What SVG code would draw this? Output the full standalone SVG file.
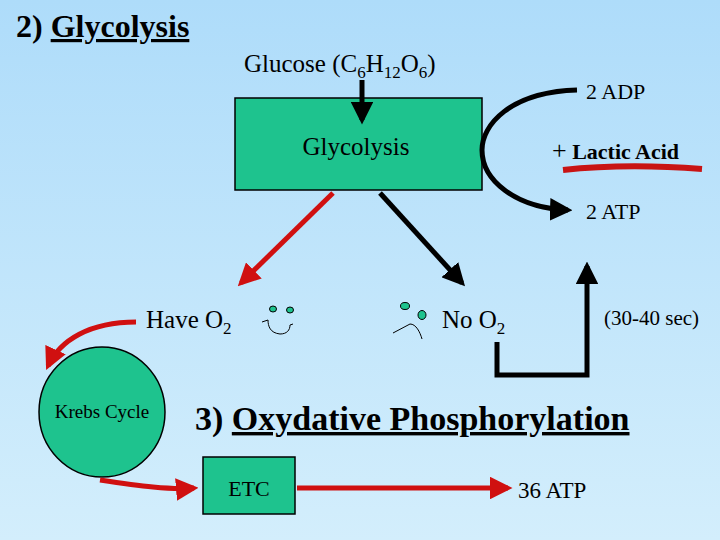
<svg xmlns="http://www.w3.org/2000/svg" width="720" height="540" viewBox="0 0 720 540">
<defs>
<linearGradient id="bg" x1="0" y1="0" x2="0" y2="1"><stop offset="0" stop-color="#aedcfa"/><stop offset="1" stop-color="#d3eefc"/></linearGradient>
<marker id="ak" viewBox="0 0 10 10" refX="8" refY="5" markerWidth="4.5" markerHeight="4.5" orient="auto"><path d="M0,0L10,5L0,10z" fill="#000"/></marker>
<marker id="ar" viewBox="0 0 10 10" refX="8" refY="5" markerWidth="4.5" markerHeight="4.5" orient="auto"><path d="M0,0L10,5L0,10z" fill="#d01010"/></marker>
<style>
.k{stroke:#000;stroke-width:5;fill:none}
.r{stroke:#d01010;stroke-width:5;fill:none}
.node{fill:#1ec38e;stroke:#000;stroke-width:1.5}
.eye{fill:#1ec38e;stroke:#000;stroke-width:1}
</style>
</defs>
<rect width="720" height="540" fill="url(#bg)"/>
<g font-family="'Liberation Serif', 'DejaVu Serif', serif" fill="#000">
<text x="16" y="37" font-size="32" font-weight="bold">2) <tspan text-decoration="underline">Glycolysis</tspan></text>
<text x="244" y="72" font-size="25">Glucose (C<tspan font-size="17" dy="6">6</tspan><tspan dy="-6">H</tspan><tspan font-size="17" dy="6">12</tspan><tspan dy="-6">O</tspan><tspan font-size="17" dy="6">6</tspan><tspan dy="-6">)</tspan></text>
<g id="glycolysis"><rect class="node" x="235" y="98" width="247" height="92"/><text x="356" y="155" font-size="25" text-anchor="middle">Glycolysis</text></g>
<g id="krebs"><ellipse class="node" cx="102" cy="412" rx="63" ry="65"/><text x="102" y="418" font-size="19" text-anchor="middle">Krebs Cycle</text></g>
<g id="etc"><rect class="node" x="203" y="457" width="92" height="57"/><text x="249" y="496" font-size="22" text-anchor="middle">ETC</text></g>
<g id="labels">
<text x="586" y="99" font-size="22">2 ADP</text>
<text x="552" y="159" font-size="22"><tspan font-size="26">+</tspan> <tspan font-weight="bold">Lactic Acid</tspan></text>
<text x="586" y="219" font-size="22">2 ATP</text>
<text x="146" y="328" font-size="25">Have O<tspan font-size="17" dy="6">2</tspan></text>
<text x="442" y="328" font-size="25">No O<tspan font-size="17" dy="6">2</tspan></text>
<text x="604" y="325" font-size="21">(30-40 sec)</text>
<text x="195" y="430" font-size="34" font-weight="bold">3) <tspan text-decoration="underline">Oxydative Phosphorylation</tspan></text>
<text x="518" y="498" font-size="23">36 ATP</text>
</g>
</g>
<g id="faces">
<ellipse class="eye" cx="273" cy="309" rx="3.5" ry="3"/><ellipse class="eye" cx="290" cy="310" rx="3.5" ry="3"/>
<path d="M262,322L268,320C268,326 270,333 280,334C287,334 290,330 290,325L293,324" stroke="#000" stroke-width="1" fill="none"/>
<ellipse class="eye" cx="405" cy="306" rx="4.5" ry="3.5"/><ellipse class="eye" cx="422" cy="315" rx="4" ry="4.5"/>
<path d="M393,333L410,324C416,324 420,332 422,339" stroke="#000" stroke-width="1" fill="none"/>
</g>
<g id="connectors">
<path d="M563,170C600,166 650,165 702,169" stroke="#c81414" stroke-width="6" fill="none"/>
<line class="k" x1="362" y1="80" x2="362" y2="120" marker-end="url(#ak)"/>
<path class="k" d="M577,90C510,92 482,125 482,150C482,180 515,208 568,210" marker-end="url(#ak)"/>
<line class="r" x1="333" y1="193" x2="241" y2="283" marker-end="url(#ar)"/>
<line class="k" x1="380" y1="193" x2="462" y2="283" marker-end="url(#ak)"/>
<path class="k" d="M497,342V375H587V266" marker-end="url(#ak)"/>
<path class="r" d="M136,322C90,322 60,340 48,366" marker-end="url(#ar)"/>
<path class="r" d="M100,480C140,486 170,490 194,488" marker-end="url(#ar)"/>
<line class="r" x1="297" y1="488" x2="508" y2="488" marker-end="url(#ar)"/>
</g>
</svg>
